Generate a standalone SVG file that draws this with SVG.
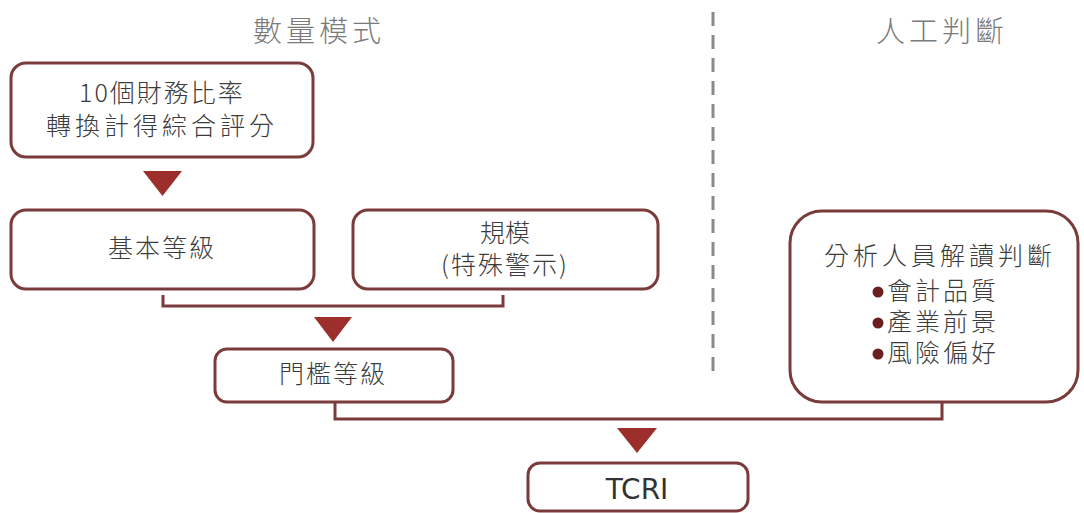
<svg xmlns="http://www.w3.org/2000/svg" width="1084" height="513" viewBox="0 0 1084 513">
<style>
.box{fill:#fff;stroke:#7a3b3b;stroke-width:3}
.conn{fill:none;stroke:#7a3b3b;stroke-width:3}
.tri{fill:#9c2f2b}
.t{font-family:"Noto Sans CJK TC","Noto Sans",sans-serif;font-size:25px;font-weight:300;fill:#3c3c3c;text-anchor:middle}
.h{font-family:"Noto Sans CJK TC","Noto Sans",sans-serif;font-size:29px;font-weight:300;fill:#7a7a7a;text-anchor:middle;letter-spacing:4px}
.lat{font-family:"DejaVu Sans",sans-serif;font-size:28px;fill:#333;text-anchor:middle}
.b{fill:#6b1f1f}
</style>
<rect width="1084" height="513" fill="#fff"/>
<g id="headers">
<text class="h" x="319" y="42">數量模式</text>
<text class="h" x="942" y="42">人工判斷</text>
<line x1="713" y1="12" x2="713" y2="376" stroke="#8a8a8a" stroke-width="3" stroke-dasharray="14,9"/>
</g>
<g id="connectors">
<polyline class="conn" points="163,295 163,306 503,306 503,295"/>
<polyline class="conn" points="335,403 335,419 942,419 942,403"/>
<polygon class="tri" points="143,171 182,171 162.5,196"/>
<polygon class="tri" points="314,317 352,317 333,342"/>
<polygon class="tri" points="617,428 657,428 637,453"/>
</g>
<g id="n1">
<rect class="box" x="11" y="63" width="302" height="94" rx="15"/>
<text class="t" x="162" y="102" letter-spacing="2">10個財務比率</text>
<text class="t" x="162" y="135" letter-spacing="4">轉換計得綜合評分</text>
</g>
<g id="n2">
<rect class="box" x="11" y="210" width="303" height="79" rx="15"/>
<text class="t" x="162" y="257" letter-spacing="2">基本等級</text>
</g>
<g id="n3">
<rect class="box" x="353" y="210" width="305" height="79" rx="15"/>
<text class="t" x="505" y="242">規模</text>
<text class="t" x="505" y="274" letter-spacing="2">(特殊警示)</text>
</g>
<g id="n4">
<rect class="box" x="215" y="349" width="238" height="53" rx="12"/>
<text class="t" x="333" y="383" letter-spacing="2">門檻等級</text>
</g>
<g id="n5">
<rect class="box" x="528" y="463" width="220" height="48" rx="12"/>
<text class="lat" x="637" y="499">TCRI</text>
</g>
<g id="n6">
<rect class="box" x="790" y="211" width="288" height="191" rx="32"/>
<text class="t" x="940" y="265" letter-spacing="4">分析人員解讀判斷</text>
<circle class="b" cx="878" cy="292" r="5.5"/>
<text class="t" x="943" y="300" letter-spacing="3">會計品質</text>
<circle class="b" cx="878" cy="323" r="5.5"/>
<text class="t" x="943" y="331" letter-spacing="3">產業前景</text>
<circle class="b" cx="878" cy="354" r="5.5"/>
<text class="t" x="943" y="362" letter-spacing="3">風險偏好</text>
</g>
</svg>
